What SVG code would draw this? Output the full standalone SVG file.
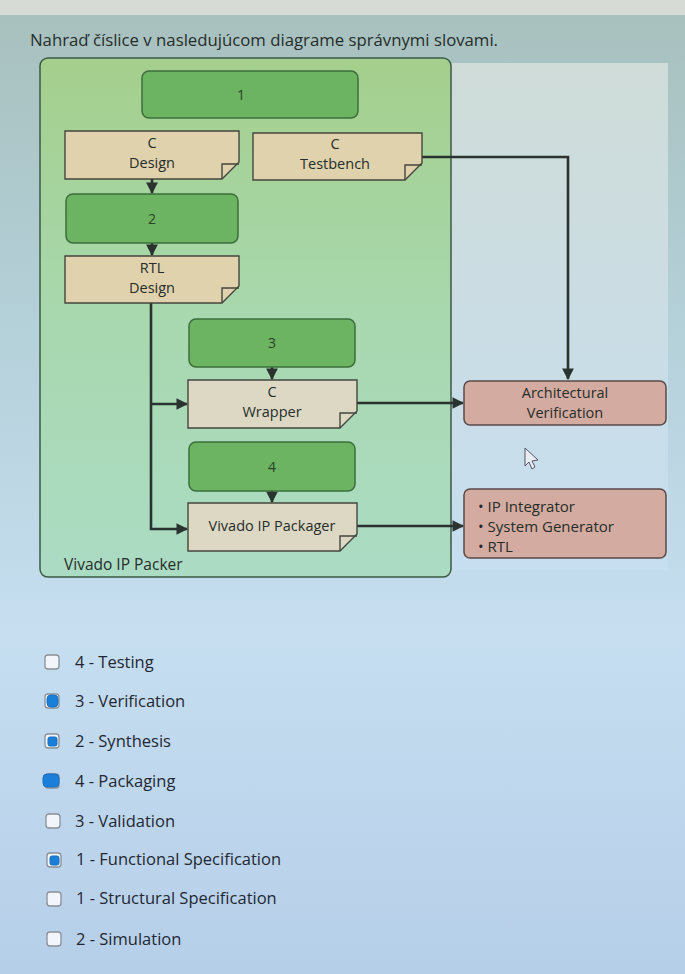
<svg xmlns="http://www.w3.org/2000/svg" width="685" height="974" viewBox="0 0 685 974">
<defs>
<linearGradient id="bg" x1="0" y1="0" x2="0" y2="1">
<stop offset="0" stop-color="#a7c0bd"/>
<stop offset="0.35" stop-color="#b5d1da"/>
<stop offset="0.65" stop-color="#c6def0"/>
<stop offset="1" stop-color="#b6cfe9"/>
</linearGradient>
<linearGradient id="panel" x1="0" y1="0" x2="0" y2="1">
<stop offset="0" stop-color="#cfdcd8"/>
<stop offset="1" stop-color="#c6def0"/>
</linearGradient>
<linearGradient id="green" x1="0" y1="0" x2="0" y2="1">
<stop offset="0" stop-color="#a4cf8c"/>
<stop offset="0.5" stop-color="#a8d8ae"/>
<stop offset="1" stop-color="#abdcc4"/>
</linearGradient>
<marker id="arr" viewBox="0 0 10 10" refX="9" refY="5" markerWidth="4.5" markerHeight="4.5" orient="auto" markerUnits="strokeWidth">
<path d="M0,0 L10,5 L0,10 z" fill="#2a332f"/>
</marker>
<style>
text{font-family:"Open Sans","Noto Sans","DejaVu Sans",sans-serif;fill:#262d2a}
.step{fill:#6cb462;stroke:#3d6e3c;stroke-width:1.5}
.doc{fill:#dfd2ad;stroke:#45463e;stroke-width:1.4}
.doc2{fill:#ddd8c4;stroke:#45463e;stroke-width:1.4}
.fold{fill:none;stroke:#45463e;stroke-width:1.4}
.out{fill:#d3aba0;stroke:#5a4a48;stroke-width:1.5}
.lbl{font-size:14.5px;text-anchor:middle}
.num{font-size:14px;text-anchor:middle;fill:#2a4227}
.conn{fill:none;stroke:#2a332f;stroke-width:2.6}
.cb{fill:#f2f6fa;stroke:#8a9098;stroke-width:1.3}
.cbon{fill:#1a7fd8;stroke:#1a6fc0;stroke-width:1}
.opt{font-size:16.5px;fill:#1f2833}
</style>
</defs>
<rect x="0" y="0" width="685" height="974" fill="url(#bg)"/>
<rect x="0" y="0" width="685" height="15" fill="#d7dbd6"/>
<text x="30" y="46" font-size="16" textLength="468" lengthAdjust="spacingAndGlyphs" fill="#1f2624">Nahraď číslice v nasledujúcom diagrame správnymi slovami.</text>
<rect x="440" y="63" width="228" height="507" fill="url(#panel)"/>
<g id="container">
<rect x="40" y="58" width="411" height="519" rx="8" fill="url(#green)" stroke="#3d5a45" stroke-width="1.5"/>
<text x="64" y="570" font-size="15.5">Vivado IP Packer</text>
</g>
<g id="connectors">
<path class="conn" d="M422,157 H568 V379" marker-end="url(#arr)"/>
<path class="conn" d="M152,179 V193" marker-end="url(#arr)"/>
<path class="conn" d="M152,243 V255" marker-end="url(#arr)"/>
<path class="conn" d="M151,303 V529 H187" marker-end="url(#arr)"/>
<path class="conn" d="M151,404 H187" marker-end="url(#arr)"/>
<path class="conn" d="M272,367 V379" marker-end="url(#arr)"/>
<path class="conn" d="M272,491 V502" marker-end="url(#arr)"/>
<path class="conn" d="M357,403 H463" marker-end="url(#arr)"/>
<path class="conn" d="M357,526 H463" marker-end="url(#arr)"/>
</g>
<g id="n1"><rect class="step" x="142" y="71" width="216" height="47" rx="7"/><text class="num" x="241" y="100">1</text></g>
<g id="cdesign"><path class="doc" d="M65,131 H239 V162 L222,179 H65 Z"/><path class="fold" d="M222,179 V164 H239"/><text class="lbl" x="152" y="148">C</text><text class="lbl" x="152" y="168">Design</text></g>
<g id="ctestbench"><path class="doc" d="M253,133 H422 V163 L405,180 H253 Z"/><path class="fold" d="M405,180 V165 H422"/><text class="lbl" x="335" y="149">C</text><text class="lbl" x="335" y="169">Testbench</text></g>
<g id="n2"><rect class="step" x="66" y="194" width="172" height="49" rx="7"/><text class="num" x="152" y="224">2</text></g>
<g id="rtldesign"><path class="doc" d="M65,256 H239 V286 L222,303 H65 Z"/><path class="fold" d="M222,303 V288 H239"/><text class="lbl" x="152" y="273">RTL</text><text class="lbl" x="152" y="293">Design</text></g>
<g id="n3"><rect class="step" x="189" y="319" width="166" height="48" rx="7"/><text class="num" x="272" y="348">3</text></g>
<g id="cwrapper"><path class="doc2" d="M188,380 H357 V411 L340,428 H188 Z"/><path class="fold" d="M340,428 V413 H357"/><text class="lbl" x="272" y="397">C</text><text class="lbl" x="272" y="417">Wrapper</text></g>
<g id="n4"><rect class="step" x="189" y="442" width="166" height="49" rx="7"/><text class="num" x="272" y="472">4</text></g>
<g id="packager"><path class="doc2" d="M188,503 H357 V534 L340,551 H188 Z"/><path class="fold" d="M340,551 V536 H357"/><text class="lbl" x="272" y="531" font-size="15.5">Vivado IP Packager</text></g>
<g id="archver"><rect class="out" x="464" y="381" width="202" height="44" rx="6"/><text class="lbl" x="565" y="398">Architectural</text><text class="lbl" x="565" y="418">Verification</text></g>
<g id="tools"><rect class="out" x="464" y="489" width="202" height="69" rx="6"/>
<text font-size="15" x="478" y="512">• IP Integrator</text>
<text font-size="15" x="478" y="532">• System Generator</text>
<text font-size="15" x="478" y="552">• RTL</text></g>
<path d="M525,448 V466 L529,462 L532,469 L535,467 L532,461 L538,460 Z" fill="#e8eef2" stroke="#556" stroke-width="1"/>
<g id="options">
<rect class="cb" x="45" y="655" width="14" height="14" rx="3"/><text class="opt" x="75" y="668">4 - Testing</text>
<rect class="cb" x="45" y="694" width="14" height="14" rx="3"/><rect class="cbon" x="47" y="695" width="11" height="12" rx="4"/><text class="opt" x="75" y="707">3 - Verification</text>
<rect class="cb" x="45" y="734" width="14" height="14" rx="3"/><rect class="cbon" x="48" y="737" width="9" height="9" rx="2"/><text class="opt" x="75" y="747">2 - Synthesis</text>
<rect class="cb" x="45" y="774" width="14" height="14" rx="3"/><rect class="cbon" x="43" y="774" width="16" height="13" rx="4"/><text class="opt" x="75" y="787">4 - Packaging</text>
<rect class="cb" x="46" y="814" width="14" height="14" rx="3"/><text class="opt" x="75" y="827">3 - Validation</text>
<rect class="cb" x="47" y="853" width="14" height="14" rx="3"/><rect class="cbon" x="50" y="856" width="9" height="9" rx="2"/><text class="opt" x="76" y="865">1 - Functional Specification</text>
<rect class="cb" x="47" y="892" width="14" height="14" rx="3"/><text class="opt" x="76" y="904">1 - Structural Specification</text>
<rect class="cb" x="47" y="932" width="14" height="14" rx="3"/><text class="opt" x="76" y="945">2 - Simulation</text>
</g>
</svg>
